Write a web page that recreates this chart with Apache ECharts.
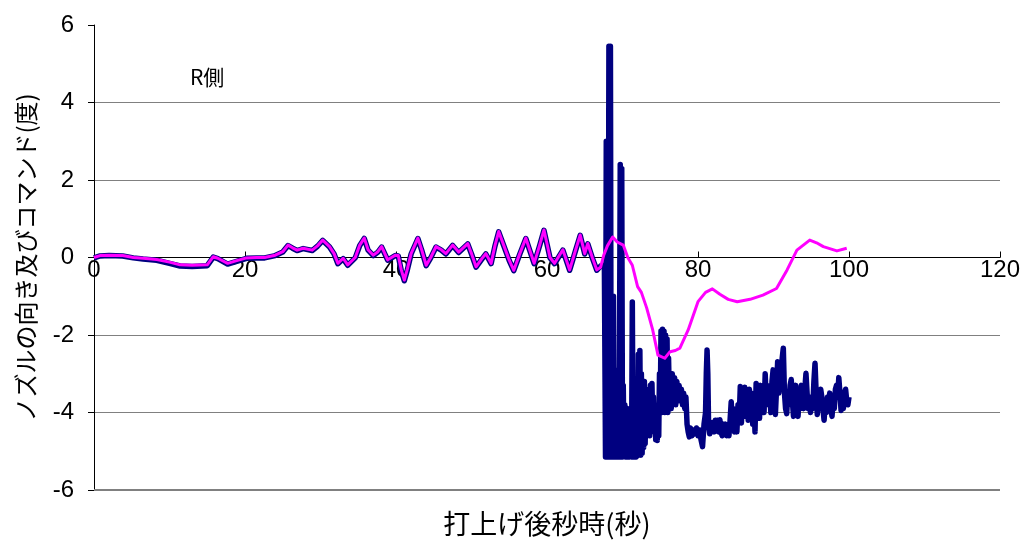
<!DOCTYPE html>
<html>
<head>
<meta charset="utf-8">
<script src="https://cdn.jsdelivr.net/npm/echarts@6/dist/echarts.min.js"></script>
<style>
html,body{margin:0;padding:0;background:#fff;}
#c{width:1024px;height:542px;}
</style>
</head>
<body>
<div id="c"></div>
<script>
// ---- data ----
const xTicks = [0, 20, 40, 60, 80, 100, 120];
const yTicks = [-6, -4, -2, 0, 2, 4, 6];

// nozzle direction (navy)
const tNozzle = [0,0.8,2,3.8,5.2,6.5,8.3,10,11.4,13,15,15.8,16.4,17.7,18.9,20.2,21.5,22.6,24,25,25.7,26.3,26.9,27.7,28.9,29.6,30.3,31.2,31.8,32.3,33,33.6,34.6,35.2,35.8,36.3,37,37.6,38.1,38.9,39.9,40.3,40.7,41.1,41.5,42,42.9,43.4,44,44.6,45.3,46,46.6,47.5,48.3,49.5,50,50.6,51.3,51.9,52.6,53.1,53.6,54.3,55,55.6,56.4,57.2,57.7,58.3,59,59.6,60.4,61,62.1,63,63.8,64.4,65,65.4,66,66.6,67.1,67.6,
67.75,67.85,67.95,68.1,68.2,68.3,68.4,68.5,68.6,68.7,68.8,68.9,69.0,69.1,69.2,69.3,69.45,69.55,69.7,69.8,69.9,70.0,70.1,70.2,70.3,70.4,70.5,70.6,70.7,70.8,70.9,71.0,71.1,71.2,71.3,71.4,71.5,71.6,71.7,71.8,71.9,72.0,72.1,72.2,72.3,72.4,72.5,72.6,72.7,72.8,72.9,73.0,73.1,73.2,73.3,73.4,73.5,73.6,73.7,73.8,73.9,74.0,74.1,74.2,74.3,74.4,74.5,74.6,74.7,74.8,74.9,75.0,75.1,75.2,75.3,75.4,75.5,75.6,75.7,75.8,75.9,76.0,76.1,76.2,76.3,76.45,76.6,76.75,76.9,77.05,77.2,77.35,77.5,77.65,77.8,77.95,78.1,78.25,78.4,78.55,78.7,78.85,79.0,79.2,79.4,79.6,79.8,80.0,80.2,80.4,80.6,80.8,81.0,81.1,81.2,81.3,81.4,81.55,81.7,81.85,82.0,82.15,82.3,82.45,82.6,82.75,82.9,83.05,83.2,83.35,83.5,83.65,83.8,83.95,84.1,84.25,84.4,84.55,84.7,84.85,85.0,85.15,85.3,85.45,85.6,85.75,85.9,86.05,86.2,86.35,86.5,86.65,86.8,86.95,87.1,87.25,87.4,87.55,87.7,87.85,88.0,88.15,88.3,88.45,88.6,88.75,88.9,89.05,89.2,89.35,89.5,89.65,89.8,89.95,90.1,90.25,90.4,90.55,90.7,90.85,91.0,91.15,91.3,91.45,91.6,91.75,91.9,92.05,92.2,92.35,92.5,92.65,92.8,92.95,93.1,93.25,93.4,93.55,93.7,93.85,94.0,94.15,94.3,94.45,94.6,94.75,94.9,95.05,95.2,95.35,95.5,95.65,95.8,95.95,96.1,96.25,96.4,96.55,96.7,96.85,97.0,97.15,97.3,97.45,97.6,97.75,97.9,98.05,98.2,98.35,98.5,98.65,98.8,98.95,99.1,99.25,99.4,99.55,99.7,99.85,100.0];
const vNozzle = [-0.01,0.04,0.05,0.04,-0.01,-0.04,-0.07,-0.15,-0.22,-0.23,-0.21,0.01,-0.03,-0.17,-0.1,-0.02,-0.01,-0.01,0.05,0.14,0.31,0.24,0.18,0.23,0.18,0.29,0.44,0.27,0.09,-0.16,-0.03,-0.2,-0.01,0.31,0.49,0.19,0.05,0.14,0.27,-0.07,0.05,0.04,-0.34,-0.6,-0.32,0.09,0.49,0.19,-0.21,-0.01,0.27,0.19,0.09,0.31,0.13,0.35,0.09,-0.25,-0.06,0.09,-0.16,0.29,0.66,0.29,-0.08,-0.34,0.09,0.49,0.19,-0.16,0.29,0.7,-0.01,-0.16,0.19,-0.33,0.19,0.57,0.09,0.35,-0.01,-0.33,-0.22,-0.2,
-5.15,3.0,-5.15,-4.0,5.45,-5.15,5.45,-5.15,-4.2,-5.15,-1.0,-5.15,-3.0,-5.15,-4.0,-5.15,-2.9,-5.15,2.4,-5.15,2.3,-5.15,-3.3,-5.1,-3.8,-5.15,-4.2,-5.15,-3.9,-5.15,-4.3,-5.1,-4.0,-5.15,-1.15,-5.15,-4.1,-5.15,-3.9,-5.15,-4.2,-5.1,-2.5,-5.1,-2.4,-5.1,-3.0,-5.05,-3.5,-4.9,-3.2,-4.8,-3.6,-4.6,-3.8,-4.5,-3.4,-4.6,-3.3,-4.4,-3.25,-4.2,-3.6,-4.5,-3.8,-4.7,-4.0,-4.72,-4.1,-4.6,-3.0,-4.0,-1.9,-4.0,-1.85,-3.9,-1.9,-4.0,-2.0,-3.8,-2.1,-4.0,-2.6,-3.6,-3.0,-3.9,-3.0,-3.7,-3.1,-3.8,-3.2,-3.6,-3.3,-3.7,-3.4,-3.8,-3.5,-3.9,-3.6,-4.3,-4.5,-4.63,-4.4,-4.6,-4.45,-4.55,-4.4,-4.6,-4.45,-4.7,-4.88,-4.3,-4.0,-3.0,-2.39,-3.0,-4.3,-4.55,-4.3,-4.5,-4.25,-4.5,-4.2,-4.45,-4.2,-4.5,-4.19,-4.5,-4.6,-4.3,-4.55,-4.3,-4.6,-4.35,-4.6,-4.2,-3.72,-4.3,-3.9,-4.5,-4.0,-4.5,-3.8,-4.2,-3.33,-4.27,-3.6,-4.1,-3.35,-4.0,-3.5,-4.2,-3.4,-4.0,-3.5,-4.3,-3.6,-4.5,-3.25,-4.0,-3.5,-4.15,-3.3,-3.9,-3.4,-4.0,-3.0,-3.8,-3.3,-3.7,-3.5,-4.0,-3.2,-2.9,-3.6,-4.05,-3.4,-2.69,-3.5,-3.0,-3.4,-2.6,-2.34,-3.5,-3.9,-4.03,-3.5,-3.8,-3.3,-3.15,-3.7,-4.1,-3.6,-3.3,-3.8,-4.1,-3.6,-3.9,-3.3,-3.6,-3.9,-3.4,-2.99,-3.5,-3.9,-3.6,-4.0,-3.7,-3.9,-3.2,-2.73,-3.5,-4.05,-3.7,-3.9,-3.4,-3.6,-3.9,-4.2,-3.8,-4.0,-3.6,-3.8,-3.5,-3.9,-4.1,-3.7,-3.9,-3.4,-3.3,-3.6,-3.1,-3.5,-3.95,-3.6,-3.9,-3.5,-3.4,-3.7,-3.8,-3.6];

// command (magenta)
const tCommand = [0,0.8,2,3.8,5.2,6.5,8.3,10,11.4,13,15,15.8,16.4,17.7,18.9,20.2,21.5,22.6,24,25,25.7,26.3,26.9,27.7,28.9,29.6,30.3,31.2,31.8,32.3,33,33.6,34.6,35.2,35.8,36.3,37,37.6,38.1,38.9,39.9,40.3,40.7,41.1,41.5,42,42.9,43.4,44,44.6,45.3,46,46.6,47.5,48.3,49.5,50,50.6,51.3,51.9,52.6,53.1,53.6,54.3,55,55.6,56.4,57.2,57.7,58.3,59,59.6,60.4,61,62.1,63,63.8,64.4,65,65.4,66,66.6,67.1,67.5,68,68.7,69.3,70.1,70.7,71.3,72,72.5,73.2,74,74.7,75.6,76.3,77,77.6,78.7,80,81,81.9,82.9,84,85.2,86.9,88.6,90.4,91.8,93.1,94.8,95.7,96.6,98.4,99.7];
const vCommand = [0,0.05,0.06,0.05,0,-0.02,-0.05,-0.12,-0.19,-0.2,-0.19,0.02,-0.02,-0.15,-0.08,-0.01,0,0,0.06,0.15,0.32,0.25,0.19,0.24,0.19,0.3,0.45,0.28,0.1,-0.15,-0.02,-0.19,0,0.32,0.5,0.2,0.06,0.15,0.28,-0.06,0.06,0.05,-0.32,-0.58,-0.3,0.1,0.5,0.2,-0.2,0,0.28,0.2,0.1,0.32,0.14,0.36,0.1,-0.24,-0.05,0.1,-0.15,0.3,0.67,0.3,-0.07,-0.33,0.1,0.5,0.2,-0.15,0.3,0.71,0,-0.15,0.2,-0.32,0.2,0.58,0.1,0.36,0,-0.32,-0.25,0.05,0.3,0.53,0.4,0.32,0,-0.2,-0.75,-0.9,-1.3,-1.87,-2.52,-2.6,-2.43,-2.4,-2.34,-1.87,-1.14,-0.9,-0.81,-0.95,-1.08,-1.14,-1.08,-0.97,-0.8,-0.32,0.19,0.45,0.38,0.28,0.17,0.24];

const nozzleData = tNozzle.map((t, i) => [t, vNozzle[i]]);
const commandData = tCommand.map((t, i) => [t, vCommand[i]]);

const gridTop = 25, gridBottom = 52, chartH = 542;
const plotH = chartH - gridTop - gridBottom;
// pixel distance from the bottom of the plot to the value 0 on the y scale
const zeroOffset = plotH * (0 - yTicks[0]) / (yTicks[yTicks.length - 1] - yTicks[0]);

const chart = echarts.init(document.getElementById('c'));
const tickFont = {fontFamily: '"Liberation Sans", Arial, sans-serif', fontSize: 24, color: '#000'};
chart.setOption({
  animation: false,
  backgroundColor: '#fff',
  grid: {left: 94, right: 24, top: gridTop, bottom: gridBottom, containLabel: false, outerBoundsMode: 'none'},
  xAxis: {
    type: 'value', min: xTicks[0], max: xTicks[xTicks.length - 1], interval: 20,
    position: 'bottom', offset: -zeroOffset,
    axisLine: {onZero: false, lineStyle: {color: '#000', width: 1}},
    axisTick: {inside: true, length: 6, lineStyle: {color: '#000'}},
    axisLabel: Object.assign({margin: 1}, tickFont),
    splitLine: {show: false},
    name: '打上げ後秒時(秒)', nameLocation: 'middle', nameGap: 253,
    nameTextStyle: {fontFamily: '"Noto Sans CJK JP", sans-serif', fontSize: 27, color: '#000'}
  },
  yAxis: {
    type: 'value', min: yTicks[0], max: yTicks[yTicks.length - 1], interval: 2,
    axisLine: {show: true, onZero: false, lineStyle: {color: '#000', width: 1}},
    axisTick: {show: true, length: 6, lineStyle: {color: '#000'}},
    axisLabel: Object.assign({margin: 20}, tickFont),
    splitLine: {show: true, lineStyle: {color: ['#808080','#808080','#808080','#808080','#808080','#808080','rgba(0,0,0,0)'], width: 1}},
    name: 'ノズルの向き及びコマンド(度)', nameLocation: 'middle', nameRotate: 90, nameGap: 56,
    nameTextStyle: {fontFamily: '"Noto Sans CJK JP", sans-serif', fontSize: 24, color: '#000'}
  },
  graphic: [{
    type: 'text', left: 190, top: 67,
    style: {text: 'R側', font: '21px "Noto Sans CJK JP", sans-serif', fill: '#000'}
  }],
  series: [{
    name: 'ノズル', type: 'line', data: nozzleData, showSymbol: false, symbol: 'none',
    lineStyle: {color: '#000080', width: 5.5, join: 'round'}, z: 2,
    markLine: {silent: true, symbol: 'none', label: {show: false},
      lineStyle: {color: '#808080', width: 2, type: 'solid'}, data: [{yAxis: yTicks[0]}]}
  }, {
    name: 'コマンド', type: 'line', data: commandData, showSymbol: false, symbol: 'none',
    lineStyle: {color: '#FF00FF', width: 3, join: 'round'}, z: 3
  }]
});
</script>
</body>
</html>
